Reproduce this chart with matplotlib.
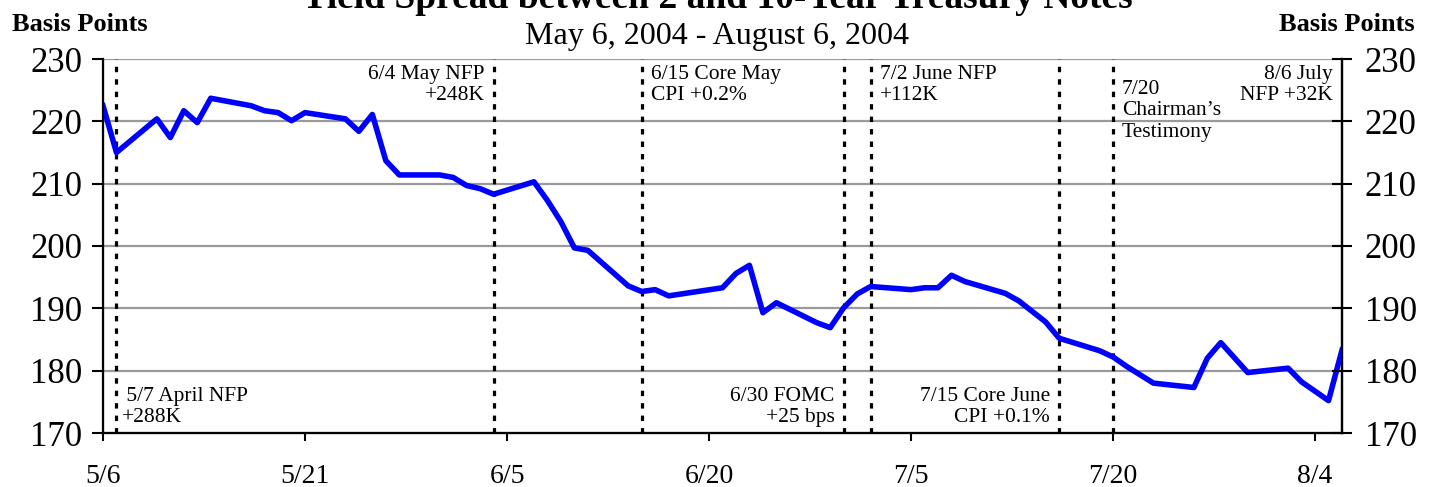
import matplotlib
matplotlib.use("Agg")
import matplotlib.pyplot as plt
import pandas as pd

plt.rcParams["font.family"] = ["Liberation Serif", "DejaVu Serif"]

# Spread 10y - 2y, in basis points
dates = [
    "2004-05-06", "2004-05-07", "2004-05-10", "2004-05-11", "2004-05-12", "2004-05-13", "2004-05-14",
    "2004-05-17", "2004-05-18", "2004-05-19", "2004-05-20", "2004-05-21",
    "2004-05-24", "2004-05-25", "2004-05-26", "2004-05-27", "2004-05-28",
    "2004-05-31", "2004-06-01", "2004-06-02", "2004-06-03", "2004-06-04",
    "2004-06-07", "2004-06-08", "2004-06-09", "2004-06-10", "2004-06-11",
    "2004-06-14", "2004-06-15", "2004-06-16", "2004-06-17",
    "2004-06-21", "2004-06-22", "2004-06-23", "2004-06-24", "2004-06-25",
    "2004-06-28", "2004-06-29", "2004-06-30", "2004-07-01", "2004-07-02",
    "2004-07-05", "2004-07-06", "2004-07-07", "2004-07-08", "2004-07-09",
    "2004-07-12", "2004-07-13", "2004-07-15", "2004-07-16",
    "2004-07-19", "2004-07-20", "2004-07-21", "2004-07-23",
    "2004-07-26", "2004-07-27", "2004-07-28", "2004-07-30",
    "2004-08-02", "2004-08-03", "2004-08-05", "2004-08-06",
]
spread = [
    222.5, 215.0, 220.4, 217.4, 221.7, 219.8, 223.7,
    222.5, 221.7, 221.4, 220.1, 221.4,
    220.4, 218.4, 221.1, 213.7, 211.4,
    211.4, 211.0, 209.7, 209.2, 208.3,
    210.3, 207.3, 203.9, 199.7, 199.3,
    193.6, 192.7, 193.0, 192.0,
    193.3, 195.6, 196.9, 189.3, 190.9,
    187.7, 186.9, 190.1, 192.3, 193.5,
    193.0, 193.3, 193.3, 195.3, 194.3,
    192.4, 191.2, 187.8, 185.2,
    183.2, 182.2, 180.7, 178.0,
    177.3, 182.0, 184.5, 179.7,
    180.4, 178.2, 175.2, 183.3,
]

tick_dates = ["2004-05-06", "2004-05-21", "2004-06-05", "2004-06-20",
              "2004-07-05", "2004-07-20", "2004-08-04"]
tick_labels = ["5/6", "5/21", "6/5", "6/20", "7/5", "7/20", "8/4"]
y_ticks = [170, 180, 190, 200, 210, 220, 230]

event_dates = ["2004-05-07", "2004-06-04", "2004-06-15", "2004-06-30",
               "2004-07-02", "2004-07-16", "2004-07-20"]

# text, anchor date, top/bottom, side of the line
notes = [
    (" 5/7 April NFP\n+288K", "2004-05-07", "bottom", "left"),
    ("6/4 May NFP\n+248K", "2004-06-04", "top", "right"),
    ("6/15 Core May\nCPI +0.2%", "2004-06-15", "top", "left"),
    ("6/30 FOMC\n+25 bps", "2004-06-30", "bottom", "right"),
    ("7/2 June NFP\n+112K", "2004-07-02", "top", "left"),
    ("7/15 Core June\nCPI +0.1%", "2004-07-16", "bottom", "right"),
    ("7/20\nChairman\u2019s\nTestimony", "2004-07-20", "top2", "left"),
    ("8/6 July\nNFP +32K", "2004-08-06", "top", "right"),
]

x = pd.to_datetime(dates)

fig = plt.figure(figsize=(14.34, 4.87), dpi=100)
ax = fig.add_axes([103 / 1434, 1 - 433 / 487, 1239 / 1434, 374 / 487])

ax.set_xlim(pd.Timestamp("2004-05-06"), pd.Timestamp("2004-08-06"))
ax.set_ylim(170, 230)
ax.set_yticks(y_ticks)
ax.set_xticks(pd.to_datetime(tick_dates))
ax.set_xticklabels(tick_labels)

ax.grid(axis="y", color="#9a9a9a", linewidth=1.6)
ax.set_axisbelow(True)

for d in event_dates:
    ax.axvline(pd.Timestamp(d), color="black", linewidth=2.3,
               linestyle=(0, (1.7, 2.2)), zorder=2)

ax.plot(x, spread, color="#0000ff", linewidth=4.0, zorder=3)

for spine in ["left", "right", "bottom"]:
    ax.spines[spine].set_linewidth(1.6)
ax.spines["top"].set_visible(False)

ax.tick_params(axis="y", direction="out", length=8, width=1.5, labelsize=25, pad=7)
ax.tick_params(axis="x", direction="out", length=6, width=1.5, labelsize=20, pad=16)

ax2 = ax.twinx()
ax2.set_ylim(170, 230)
ax2.set_yticks(y_ticks)
ax2.tick_params(axis="y", direction="inout", length=15, width=1.5, labelsize=25, pad=9)
ax2.spines["top"].set_visible(False)
ax2.spines["right"].set_linewidth(1.6)

for text, d, where, side in notes:
    dx = 9 if side == "left" else -9
    if text.startswith(" "):
        dx = 5
    if where == "top":
        yf, va = 0.985, "top"
    elif where == "top2":
        yf, va = 0.945, "top"
    else:
        yf, va = 0.015, "bottom"
    ax.annotate(text, xy=(pd.Timestamp(d), yf), xycoords=("data", "axes fraction"),
                xytext=(dx, 0), textcoords="offset pixels",
                ha=side, va=va, ma=side, fontsize=15.5, linespacing=1.2)

fig.text(0.5, 1 - 8 / 487, "Yield Spread between 2 and 10-Year Treasury Notes",
         ha="center", va="baseline", fontsize=27, fontweight="bold")
fig.text(0.5, 1 - 44 / 487, "May 6, 2004 - August 6, 2004",
         ha="center", va="baseline", fontsize=23)
fig.text(12 / 1434, 1 - 31 / 487, "Basis Points", ha="left", va="baseline",
         fontsize=19, fontweight="bold")
fig.text(1415 / 1434, 1 - 31 / 487, "Basis Points", ha="right", va="baseline",
         fontsize=19, fontweight="bold")

fig.savefig("out.png", dpi=100)
